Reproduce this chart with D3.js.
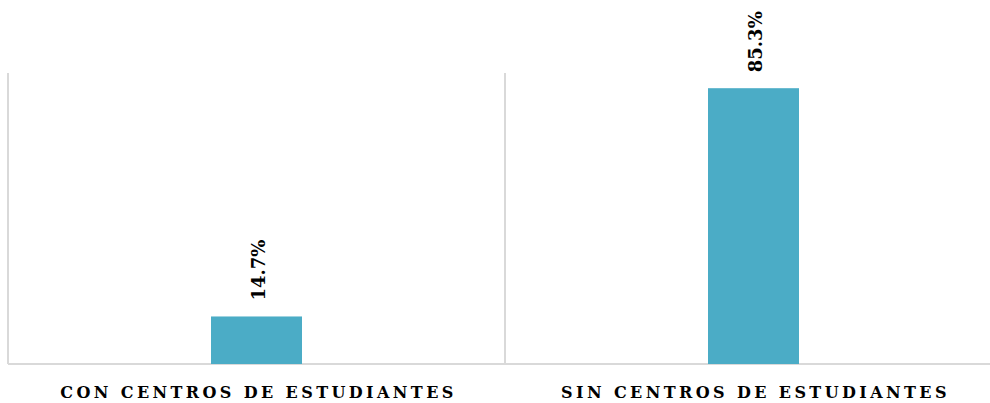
<!DOCTYPE html>
<html><head><meta charset="utf-8">
<script src="https://cdn.jsdelivr.net/npm/d3@7"></script>
<style>body{margin:0;background:#fff;}svg{display:block;}</style>
</head><body>
<svg id="chart" width="990" height="403"></svg>
<script>
const categories = ["CON CENTROS DE ESTUDIANTES", "SIN CENTROS DE ESTUDIANTES"];
const values = [14.7, 85.3];
const valueLabels = ["14.7%", "85.3%"];
const yMax = 90;

(function () {
const svg = d3.select("#chart");
const mLeft = 8, mRight = 1002, mTop = 73, mBottom = 364;

const x = d3.scaleBand().domain(categories).range([mLeft, mRight]).paddingInner(0).paddingOuter(0);
const y = d3.scaleLinear().domain([0, yMax]).range([mBottom, mTop]);

// vertical gridlines at category boundaries
const bounds = [mLeft, mLeft + x.bandwidth(), mRight];
svg.selectAll("line.grid").data(bounds).enter().append("line")
  .attr("x1", d => d).attr("x2", d => d)
  .attr("y1", mTop).attr("y2", mBottom)
  .attr("stroke", "#d9d9d9").attr("stroke-width", 2);

// baseline
svg.append("line").attr("x1", mLeft).attr("x2", 990).attr("y1", mBottom).attr("y2", mBottom)
  .attr("stroke", "#d9d9d9").attr("stroke-width", 2);

const barW = 91;
svg.selectAll("rect.bar").data(values).enter().append("rect")
  .attr("x", (d, i) => x(categories[i]) + x.bandwidth() / 2 - barW / 2)
  .attr("y", d => y(d))
  .attr("width", barW)
  .attr("height", d => y(0) - y(d))
  .attr("fill", "#4bacc6");

// value labels rotated
svg.selectAll("text.val").data(values).enter().append("text")
  .attr("transform", (d, i) => `translate(${x(categories[i]) + x.bandwidth() / 2 + 8},${y(d) - 16}) rotate(-90)`)
  .attr("text-anchor", "start")
  .attr("font-family", "'DejaVu Serif', 'Liberation Serif', serif")
  .attr("font-weight", "bold")
  .attr("font-size", 18)
  .attr("fill", "#000")
  .text((d, i) => valueLabels[i]);

// category labels
svg.selectAll("text.cat").data(categories).enter().append("text")
  .attr("x", d => x(d) + x.bandwidth() / 2 + 2)
  .attr("y", 398)
  .attr("text-anchor", "middle")
  .attr("font-family", "'DejaVu Serif', 'Liberation Serif', serif")
  .attr("font-weight", "bold")
  .attr("font-size", 16)
  .attr("letter-spacing", "3.4px")
  .attr("fill", "#000")
  .text(d => d);
})();
</script>
</body></html>
